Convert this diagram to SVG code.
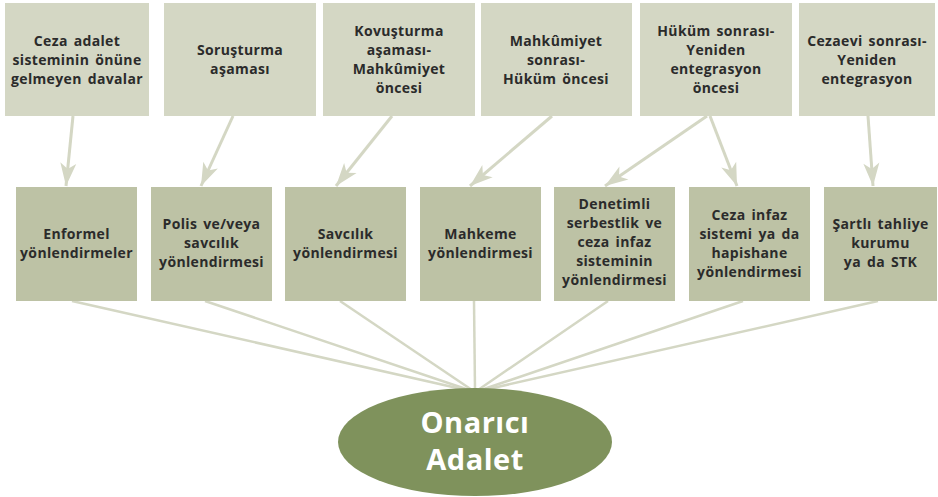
<svg xmlns="http://www.w3.org/2000/svg" width="938" height="497" viewBox="0 0 938 497">
<style>
.top{fill:#d4d7c4}
.mid{fill:#bdc2a5}
.t{font-family:"Open Sans","Liberation Sans",sans-serif;font-weight:700;font-size:14px;fill:#2b2b2b;text-anchor:middle;letter-spacing:0.35px;word-spacing:2px}
.arr{stroke:#d4d7c4;stroke-width:3;fill:none;marker-end:url(#ah)}
.fan{stroke:#d4d7c4;stroke-width:2.5;fill:none}
.big{font-family:"Open Sans","Liberation Sans",sans-serif;font-weight:700;font-size:29px;fill:#ffffff;text-anchor:middle;letter-spacing:0.5px}
</style>
<defs>
<marker id="ah" markerUnits="userSpaceOnUse" markerWidth="26" markerHeight="18" viewBox="-24 -9 26 18" refX="0" refY="0" orient="auto">
<path d="M0,0 L-23,-8 L-17,0 L-23,8 Z" fill="#d4d7c4"/>
</marker>
</defs>
<g id="connectors">
<line class="arr" x1="73" y1="116" x2="66" y2="186"/>
<line class="arr" x1="233" y1="116" x2="201" y2="186"/>
<line class="arr" x1="392" y1="116" x2="336" y2="186"/>
<line class="arr" x1="552" y1="116" x2="470" y2="186"/>
<line class="arr" x1="707" y1="116" x2="605" y2="186"/>
<line class="arr" x1="710" y1="116" x2="737" y2="186"/>
<line class="arr" x1="868" y1="116" x2="873" y2="186"/>
<line class="fan" x1="72" y1="301" x2="466" y2="390"/>
<line class="fan" x1="205" y1="301" x2="469" y2="390"/>
<line class="fan" x1="340" y1="301" x2="472" y2="390"/>
<line class="fan" x1="474" y1="301" x2="475" y2="390"/>
<line class="fan" x1="608" y1="301" x2="478" y2="390"/>
<line class="fan" x1="743" y1="301" x2="481" y2="390"/>
<line class="fan" x1="878" y1="301" x2="484" y2="390"/>
</g>
<g id="top1"><rect class="top" x="5" y="3" width="144" height="113"/>
<text class="t" x="77" y="46">Ceza adalet</text><text class="t" x="77" y="65">sisteminin önüne</text><text class="t" x="77" y="84">gelmeyen davalar</text></g>
<g id="top2"><rect class="top" x="164" y="3" width="152" height="113"/>
<text class="t" x="240" y="55">Soruşturma</text><text class="t" x="240" y="74">aşaması</text></g>
<g id="top3"><rect class="top" x="323" y="3" width="152" height="113"/>
<text class="t" x="399" y="36">Kovuşturma</text><text class="t" x="399" y="55">aşaması-</text><text class="t" x="399" y="74">Mahkûmiyet</text><text class="t" x="399" y="93">öncesi</text></g>
<g id="top4"><rect class="top" x="481" y="3" width="151" height="113"/>
<text class="t" x="556" y="46">Mahkûmiyet</text><text class="t" x="556" y="65">sonrası-</text><text class="t" x="556" y="84">Hüküm öncesi</text></g>
<g id="top5"><rect class="top" x="640" y="3" width="152" height="113"/>
<text class="t" x="716" y="36">Hüküm sonrası-</text><text class="t" x="716" y="55">Yeniden</text><text class="t" x="716" y="74">entegrasyon</text><text class="t" x="716" y="93">öncesi</text></g>
<g id="top6"><rect class="top" x="799" y="3" width="136" height="113"/>
<text class="t" x="867" y="46">Cezaevi sonrası-</text><text class="t" x="867" y="65">Yeniden</text><text class="t" x="867" y="84">entegrasyon</text></g>
<g id="mid1"><rect class="mid" x="16" y="187" width="121" height="114"/>
<text class="t" x="76.5" y="239">Enformel</text><text class="t" x="76.5" y="258">yönlendirmeler</text></g>
<g id="mid2"><rect class="mid" x="151" y="187" width="121" height="114"/>
<text class="t" x="211.5" y="229">Polis ve/veya</text><text class="t" x="211.5" y="248">savcılık</text><text class="t" x="211.5" y="267">yönlendirmesi</text></g>
<g id="mid3"><rect class="mid" x="285" y="187" width="121" height="114"/>
<text class="t" x="345.5" y="239">Savcılık</text><text class="t" x="345.5" y="258">yönlendirmesi</text></g>
<g id="mid4"><rect class="mid" x="420" y="187" width="121" height="114"/>
<text class="t" x="480.5" y="239">Mahkeme</text><text class="t" x="480.5" y="258">yönlendirmesi</text></g>
<g id="mid5"><rect class="mid" x="554" y="187" width="121" height="114"/>
<text class="t" x="614.5" y="209">Denetimli</text><text class="t" x="614.5" y="228">serbestlik ve</text><text class="t" x="614.5" y="247">ceza infaz</text><text class="t" x="614.5" y="266">sisteminin</text><text class="t" x="614.5" y="285">yönlendirmesi</text></g>
<g id="mid6"><rect class="mid" x="689" y="187" width="121" height="114"/>
<text class="t" x="749.5" y="220">Ceza infaz</text><text class="t" x="749.5" y="239">sistemi ya da</text><text class="t" x="749.5" y="258">hapishane</text><text class="t" x="749.5" y="277">yönlendirmesi</text></g>
<g id="mid7"><rect class="mid" x="824" y="187" width="113" height="114"/>
<text class="t" x="880.5" y="229">Şartlı tahliye</text><text class="t" x="880.5" y="248">kurumu</text><text class="t" x="880.5" y="267">ya da STK</text></g>
<g id="center"><ellipse cx="475" cy="442" rx="137" ry="54" fill="#7f925c"/>
<text class="big" x="475" y="433">Onarıcı</text><text class="big" x="475" y="470">Adalet</text></g>
</svg>
